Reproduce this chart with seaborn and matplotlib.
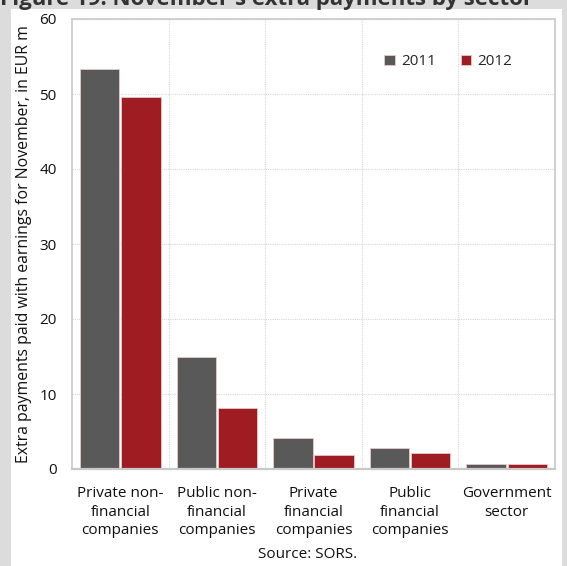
import matplotlib
matplotlib.use("Agg")
import matplotlib.pyplot as plt
import matplotlib.patches as mpatches
import seaborn as sns
import pandas as pd

# Sector data (EUR m)
sectors = [
    "Private non-\nfinancial\ncompanies",
    "Public non-\nfinancial\ncompanies",
    "Private\nfinancial\ncompanies",
    "Public\nfinancial\ncompanies",
    "Government\nsector",
]
years = ["2011", "2012"]
values_2011 = [53.3, 14.9, 4.1, 2.75, 0.65]
values_2012 = [49.6, 8.1, 1.85, 2.2, 0.65]
yticks = [0, 10, 20, 30, 40, 50, 60]

df = pd.DataFrame({
    "sector": sectors * 2,
    "year": [years[0]] * len(sectors) + [years[1]] * len(sectors),
    "value": values_2011 + values_2012,
})

sns.set_theme(style="white")
plt.rcParams["font.family"] = ["Open Sans", "DejaVu Sans"]

W, H = 567, 566
fig = plt.figure(figsize=(W / 100, H / 100), dpi=100)
fig.patch.set_facecolor("#dcdcdc")
# white panel inside the grey frame
fig.patches.append(mpatches.Rectangle((11 / W, 0), (562 - 11) / W, (H - 9) / H,
                                      transform=fig.transFigure,
                                      facecolor="white", edgecolor="none", zorder=-5))

# header title, partly cut by the top edge
fig.text(0 / W, 1 - 5 / H, "Figure 19: November's extra payments by sector",
         ha="left", va="baseline", fontsize=16, fontweight="bold",
         color="#333333", zorder=-4)

ax = fig.add_axes([72 / W, 1 - 469 / H, (555 - 72) / W, (469 - 19) / H])
ax.set_facecolor("white")

palette = {"2011": "#595959", "2012": "#9e1c22"}
sns.barplot(data=df, x="sector", y="value", hue="year", palette=palette,
            width=0.85, gap=0.04, saturation=1, ax=ax,
            edgecolor="#e8c8c8", linewidth=0.6)

ax.set_ylim(0, 60)
ax.set_yticks(yticks)
ax.set_xlim(-0.5, len(sectors) - 0.5)

# dotted grid: horizontal at each tick, vertical between groups
for y in yticks[1:]:
    ax.axhline(y, color="#d6d6d6", linestyle=(0, (1, 1)), linewidth=0.8, zorder=0)
for i in range(1, len(sectors)):
    ax.axvline(i - 0.5, color="#d6d6d6", linestyle=(0, (1, 1)), linewidth=0.8, zorder=0)

for side in ["left", "right", "bottom", "top"]:
    ax.spines[side].set_color("#c8c8c8")
    ax.spines[side].set_linewidth(1.2)
ax.spines["bottom"].set_linewidth(1.6)
ax.spines["top"].set_linestyle((0, (1, 1)))

ax.tick_params(axis="both", length=0, labelsize=11, colors="#111111")
ax.tick_params(axis="y", pad=11)
ax.tick_params(axis="x", pad=12)
for lbl in ax.get_xticklabels():
    lbl.set_linespacing(1.35)

ax.set_xlabel("")
ax.set_ylabel("Extra payments paid with earnings for November, in EUR m",
              fontsize=11.4, color="#111111", labelpad=5)

leg = ax.legend(loc="upper right", bbox_to_anchor=(0.94, 0.952), ncol=2,
                frameon=False, fontsize=11, handlelength=0.7, handleheight=0.7,
                handletextpad=0.4, columnspacing=1.6)

fig.text(308 / W, 1 - 554 / H, "Source: SORS.", ha="center", va="center",
         fontsize=11, color="#111111")

fig.savefig("out.png", dpi=100, facecolor=fig.get_facecolor())
